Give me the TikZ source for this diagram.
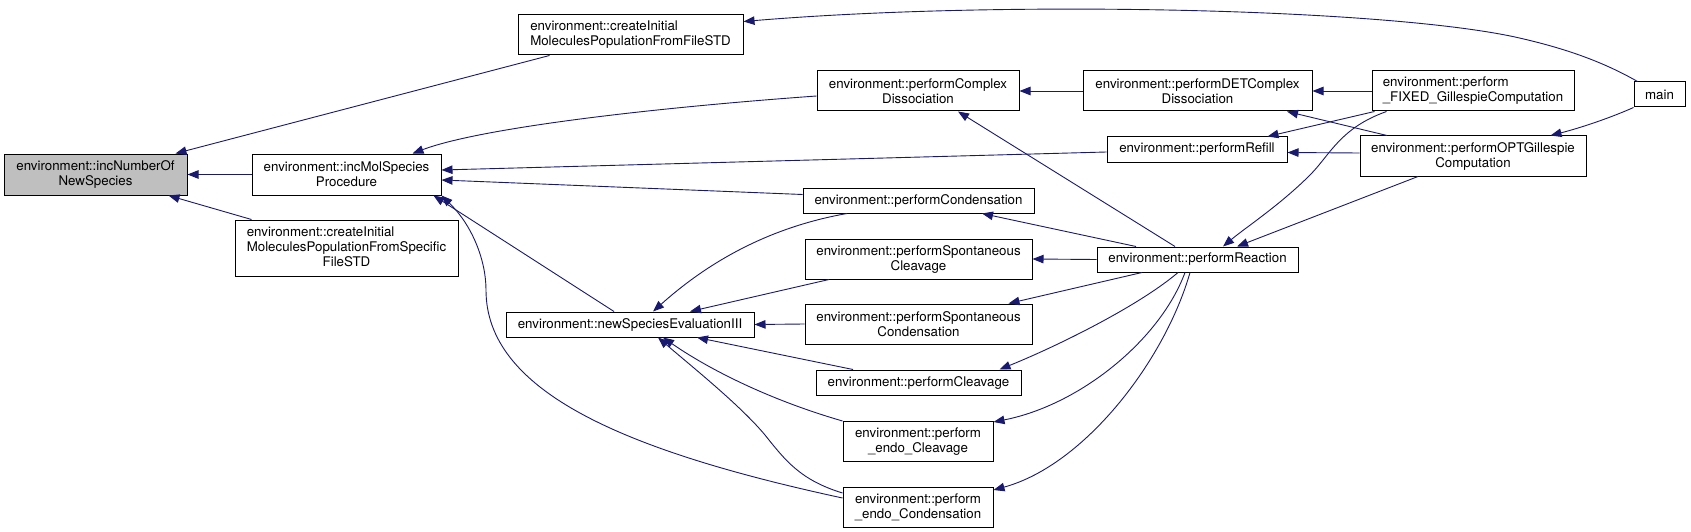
\documentclass[tikz,border=0pt]{standalone}
\usepackage{fontspec}
\setmainfont{TeX Gyre Heros}
\usetikzlibrary{arrows.meta,calc}
\definecolor{edgec}{RGB}{25,25,112}
\definecolor{numfill}{RGB}{191,191,191}
\newcommand\dxfont{\fontsize{13.3}{15}\selectfont}
\begin{document}
\begin{tikzpicture}[x=1pt,y=-1pt,
 box/.style={draw=black,line width=1pt,fill=white,inner sep=0pt,align=center,font=\dxfont},
 edge/.style={draw=edgec,line width=0.9pt,-{Triangle[length=11pt,width=8.5pt]}}]
\useasboundingbox[fill=white] (0,0) rectangle (1691,532);
% nodes
\node[box,fill=numfill,minimum width=183pt,minimum height=41pt] (num) at (95.5,174.5) {environment::incNumberOf\\NewSpecies};
\node[box,minimum width=189pt,minimum height=41pt] (mol) at (346.5,174.5) {environment::incMolSpecies\\Procedure};
\node[box,minimum width=223pt,minimum height=56pt] (spec) at (346.5,248) {\begin{tabular}{@{}l@{}}environment::createInitial\\MoleculesPopulationFromSpecific\\\multicolumn{1}{@{}c@{}}{FileSTD}\end{tabular}};
\node[box,minimum width=225pt,minimum height=40pt] (file) at (630.5,35) {\begin{tabular}{@{}l@{}}environment::createInitial\\MoleculesPopulationFromFileSTD\end{tabular}};
\node[box,minimum width=248pt,minimum height=25pt] (newsp) at (630,324.5) {environment::newSpeciesEvaluationIII};
\node[box,minimum width=202pt,minimum height=40pt] (cplx) at (918,91) {environment::performComplex\\Dissociation};
\node[box,minimum width=231pt,minimum height=25pt] (cond) at (918.5,200.5) {environment::performCondensation};
\node[box,minimum width=227pt,minimum height=40pt] (scl) at (918.5,259) {environment::performSpontaneous\\Cleavage};
\node[box,minimum width=227pt,minimum height=40pt] (scd) at (918.5,324) {environment::performSpontaneous\\Condensation};
\node[box,minimum width=205pt,minimum height=25pt] (clv) at (918.5,382.5) {environment::performCleavage};
\node[box,minimum width=150pt,minimum height=40pt] (ecl) at (918,441.5) {environment::perform\\\_endo\_Cleavage};
\node[box,minimum width=150pt,minimum height=40pt] (econd) at (918,507) {environment::perform\\\_endo\_Condensation};
\node[box,minimum width=229pt,minimum height=40pt] (det) at (1197.5,91) {environment::performDETComplex\\Dissociation};
\node[box,minimum width=180pt,minimum height=25pt] (refill) at (1197,149.5) {environment::performRefill};
\node[box,minimum width=201pt,minimum height=25pt] (react) at (1197.5,259.5) {environment::performReaction};
\node[box,minimum width=202pt,minimum height=40pt] (fixed) at (1473,91) {\begin{tabular}{@{}l@{}}environment::perform\\\_FIXED\_GillespieComputation\end{tabular}};
\node[box,minimum width=226pt,minimum height=40pt] (opt) at (1473,156) {environment::performOPTGillespie\\Computation};
\node[box,minimum width=51pt,minimum height=25pt] (main) at (1659.5,94.5) {main};
% edges
\draw[edge] ([shift={(32,0)}]file.south west) -- ([shift={(-12,0)}]num.north east);
\draw[edge] (mol.west) -- (num.east);
\draw[edge] ([shift={(17,0)}]spec.north west) -- ([shift={(-19,0)}]num.south east);
\draw[edge] ([shift={(0,5)}]cplx.west) .. controls (650,108) and (480,128) .. ([shift={(-29,0)}]mol.north east);
\draw[edge] ([shift={(0,2.5)}]refill.west) -- ([shift={(0,-4.5)}]mol.east);
\draw[edge] ([shift={(0,-6)}]cond.west) -- ([shift={(0,5.5)}]mol.east);
\draw[edge] ([shift={(-16,0)}]newsp.north) -- ([shift={(-8,0)}]mol.south east);
\draw[edge] ([shift={(0,-9)}]econd.west) .. controls (620,450) and (486,390) .. (486,290) .. controls (486,260) and (472,225) .. (mol.south east);
\draw[edge] ([shift={(-71.5,0)}]cond.south) .. controls (765,228) and (705,265) .. ([shift={(23,0)}]newsp.north);
\draw[edge] ([shift={(-89.5,0)}]scl.south) -- ([shift={(60,0)}]newsp.north);
\draw[edge] (scd.west) -- (newsp.east);
\draw[edge] ([shift={(-65.5,0)}]clv.north) -- ([shift={(67,0)}]newsp.south);
\draw[edge] (ecl.north west) .. controls (770,400) and (710,370) .. ([shift={(33,0)}]newsp.south);
\draw[edge] ([shift={(0,-14)}]econd.west) .. controls (800,480) and (785,460) .. (765,435) .. controls (740,405) and (690,365) .. ([shift={(28,0)}]newsp.south);
\draw[edge] (det.west) -- (cplx.east);
\draw[edge] ([shift={(-22.5,0)}]react.north) -- ([shift={(40,0)}]cplx.south);
\draw[edge] ([shift={(3,0)}]fixed.south west) -- ([shift={(-20,0)}]refill.north east);
\draw[edge] ([shift={(0,-3)}]opt.west) -- ([shift={(0,3)}]refill.east);
\draw[edge] (fixed.west) -- (det.east);
\draw[edge] ([shift={(-86,0)}]opt.north) -- ([shift={(89.5,0)}]det.south);
\draw[edge] ([shift={(4,0)}]main.north west) .. controls (1600,60) and (1560,47) .. (1515,37) .. controls (1380,8) and (1000,0) .. ([shift={(0,7)}]file.north east);
\draw[edge] (main.south west) .. controls (1610,118) and (1580,128) .. ([shift={(-36,0)}]opt.north east);
\draw[edge] ([shift={(15,0)}]fixed.south west) .. controls (1340,128) and (1330,155) .. (1310,175) .. controls (1280,205) and (1245,228) .. ([shift={(25.5,0)}]react.north);
\draw[edge] ([shift={(-55,0)}]opt.south) -- ([shift={(39.5,0)}]react.north);
\draw[edge] ([shift={(-61.5,0)}]react.north) -- ([shift={(63.5,0)}]cond.south);
\draw[edge] (react.west) -- (scl.east);
\draw[edge] ([shift={(-55.5,0)}]react.south) -- ([shift={(-24,0)}]scd.north east);
\draw[edge] ([shift={(-19.5,0)}]react.south) .. controls (1140,305) and (1060,345) .. ([shift={(-22,0)}]clv.north east);
\draw[edge] ([shift={(-12.5,0)}]react.south) .. controls (1160,340) and (1080,405) .. ([shift={(0,1)}]ecl.north east);
\draw[edge] ([shift={(-7.5,0)}]react.south) .. controls (1165,360) and (1085,465) .. ([shift={(0,-17)}]econd.east);
\end{tikzpicture}
\end{document}
